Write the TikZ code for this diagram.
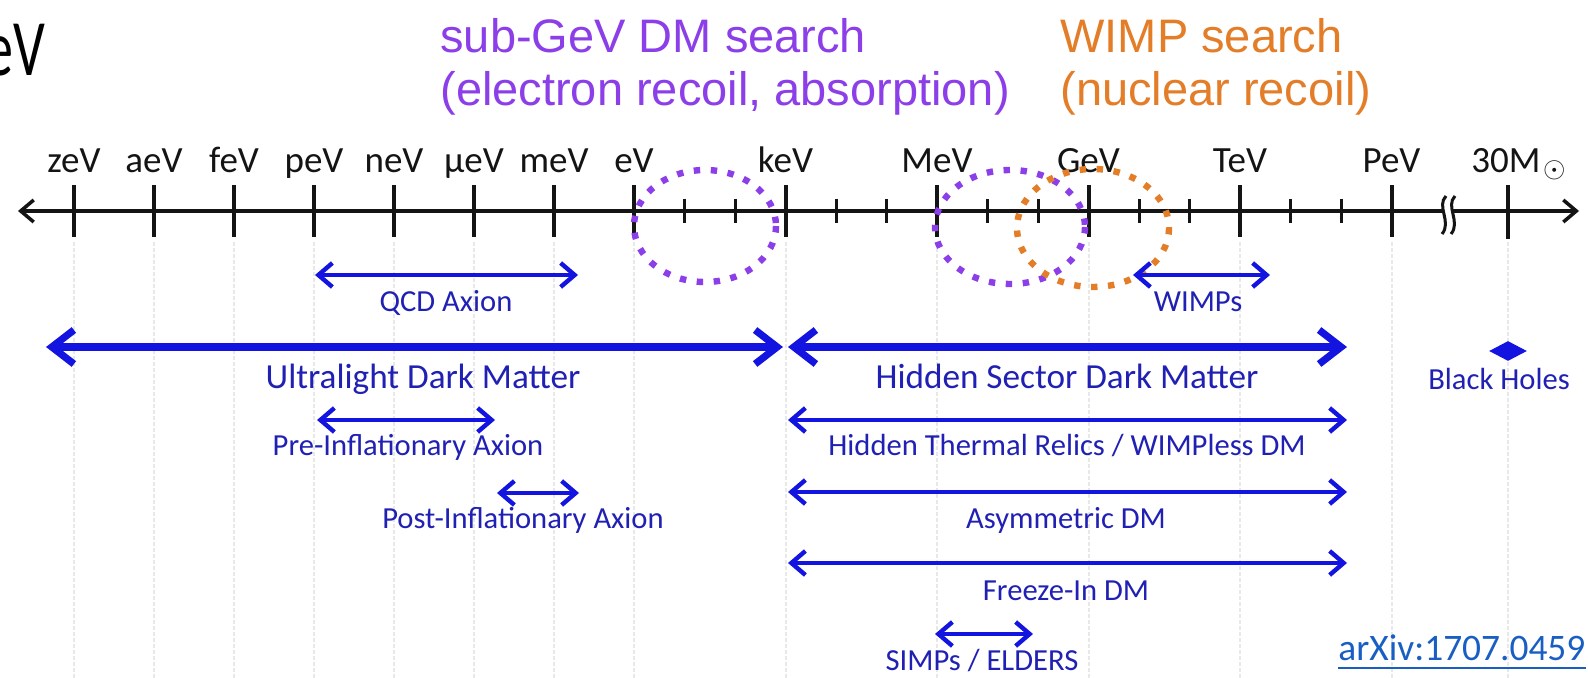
\documentclass[tikz,border=0pt]{standalone}
\usepackage{fontspec}
\setmainfont{Carlito}
\newfontfamily\arialf{Liberation Sans}
\usetikzlibrary{arrows.meta,shapes.geometric}
\definecolor{axblue}{RGB}{20,20,225}
\definecolor{txtblue}{RGB}{32,32,180}
\definecolor{dmpurple}{RGB}{140,62,232}
\definecolor{wimporange}{RGB}{228,125,40}
\definecolor{gridgray}{RGB}{232,232,232}
\definecolor{linkblue}{RGB}{25,95,195}
\definecolor{axblack}{RGB}{20,20,20}
\begin{document}
\begin{tikzpicture}[x=0.5pt,y=-0.5pt,
  gridline/.style={gridgray, line width=1pt, dash pattern=on 2pt off 1pt},
  axisline/.style={axblack, line width=1.75pt, {Straight Barb[length=6.5pt,width=11pt]}-{Straight Barb[length=6.5pt,width=11pt]}},
  majortick/.style={axblack, line width=2pt},
  minortick/.style={axblack, line width=1.5pt},
  thinrange/.style={axblue, line width=2.2pt, {Straight Barb[length=7pt,width=12pt]}-{Straight Barb[length=7pt,width=12pt]}},
  thickrange/.style={axblue, line width=3.6pt, {Straight Barb[length=11pt,width=17pt]}-{Straight Barb[length=11pt,width=17pt]}},
  biglab/.style={text=txtblue, font=\fontsize{17.6}{20}\selectfont, anchor=base, inner sep=0},
  smalllab/.style={text=txtblue, font=\fontsize{15.3}{18}\selectfont, anchor=base, inner sep=0},
  ticklab/.style={text=axblack, font=\fontsize{18.5}{21}\selectfont, anchor=base, inner sep=0},
  titlefont/.style={font=\arialf\fontsize{23.5}{28}\selectfont, anchor=base west, inner sep=0},
  subgevring/.style={dmpurple, line width=3.2pt, dash pattern=on 3.2pt off 5.3pt},
  wimpring/.style={wimporange, line width=3.2pt, dash pattern=on 3.2pt off 5.3pt}]
\useasboundingbox (0,0) rectangle (1588,678);
\fill[white] (0,0) rectangle (1588,678);

% grid lines
\foreach \x in {74,154,234,314,394,474,554,634,785.5,937,1088.5,1240,1391.5,1508}
  \draw[gridline] (\x,242) -- (\x,678);

% axis
\coordinate (axL) at (18,211);
\coordinate (axR) at (1579,211);
\draw[axisline] (axL) -- (axR);

% major ticks with labels (left group)
\foreach \lab [count=\i from 0] in {zeV,aeV,feV,peV,neV,μeV,meV,eV} {
  \coordinate (tk\i) at ({74+80*\i},211);
  \draw[majortick] ([yshift=13pt]tk\i) -- ([yshift=-13pt]tk\i);
  \node[ticklab] (lab\i) at ({74+80*\i},173) {\lab};
}
% right group
\foreach \lab [count=\j from 1] in {keV,MeV,GeV,TeV,PeV} {
  \coordinate (tr\j) at ({634+151.5*\j},211);
  \draw[majortick] ([yshift=13pt]tr\j) -- ([yshift=-13pt]tr\j);
  \node[ticklab] (rlab\j) at ({634+151.5*\j},173) {\lab};
}
\foreach \d in {1,2,4,5,7,8,10,11,13,14} {
  \coordinate (mn\d) at ({634+50.5*\d},211);
  \draw[minortick] ([yshift=6pt]mn\d) -- ([yshift=-6pt]mn\d);
}
% break
\fill[white] (1446,196) .. controls (1436,206) and (1452,222) .. (1442,234) -- (1451,234) .. controls (1461,222) and (1445,206) .. (1455,196) -- cycle;
\draw[axblack, line width=1.5pt] (1446,196) .. controls (1436,206) and (1452,222) .. (1442,234);
\draw[axblack, line width=1.5pt] (1455,196) .. controls (1445,206) and (1461,222) .. (1451,234);
% 30 solar masses
\coordinate (tsm) at (1508,211);
\draw[majortick] ([yshift=13pt]tsm) -- ([yshift=-14pt]tsm);
\node[ticklab] (smlab) at (1506,173) {30M\rlap{\kern1.5pt\raisebox{-2.5pt}{\fontsize{14}{14}\selectfont$\odot$}}};

% dotted rings
\draw[subgevring] (705,226) ellipse [x radius=71, y radius=56];
\draw[subgevring] (1010,227) ellipse [x radius=75, y radius=57];
\draw[wimpring] (1093,228) ellipse [x radius=76, y radius=59];

% titles
\node[titlefont, text=dmpurple] (sg1) at (440,53) {sub-GeV DM search};
\node[titlefont, text=dmpurple] (sg2) at (440,106) {(electron recoil, absorption)};
\node[titlefont, text=wimporange] (wp1) at (1060,53) {WIMP search};
\node[titlefont, text=wimporange] (wp2) at (1060,106) {(nuclear recoil)};
\node[font=\fontsize{40}{44}\selectfont, anchor=base east, inner sep=0, text=black] (ev0) at (46,76) {\scalebox{0.7}[1]{eV}};

% ranges
\coordinate (qcdA) at (315,275);  \coordinate (qcdB) at (578,275);
\draw[thinrange] (qcdA) -- (qcdB);
\node[smalllab] (qcd) at (446,312) {QCD Axion};

\coordinate (wmA) at (1133,275);  \coordinate (wmB) at (1270,275);
\draw[thinrange] (wmA) -- (wmB);
\node[smalllab] (wimps) at (1198,312) {WIMPs};

\coordinate (ulA) at (46,347);  \coordinate (ulB) at (783,347);
\draw[thickrange] (ulA) -- (ulB);
\node[biglab] (uldm) at (423,388) {Ultralight Dark Matter};

\coordinate (hsA) at (788,347);  \coordinate (hsB) at (1347,347);
\draw[thickrange] (hsA) -- (hsB);
\node[biglab] (hsdm) at (1067,388) {Hidden Sector Dark Matter};

\node[diamond, aspect=1.9, fill=axblue, minimum width=19pt, minimum height=10pt, inner sep=0] (bh) at (1508,351) {};
\node[smalllab] (bhlab) at (1499,389) {Black Holes};

\coordinate (preA) at (317,420);  \coordinate (preB) at (495,420);
\draw[thinrange] (preA) -- (preB);
\node[smalllab] (pre) at (408,455) {Pre-Inflationary Axion};

\coordinate (htA) at (788,420);  \coordinate (htB) at (1347,420);
\draw[thinrange] (htA) -- (htB);
\node[smalllab] (htr) at (1067,455) {Hidden Thermal Relics / WIMPless DM};

\coordinate (postA) at (497,493);  \coordinate (postB) at (579,493);
\draw[thinrange] (postA) -- (postB);
\node[smalllab] (post) at (523,528) {Post-Inflationary Axion};

\coordinate (asA) at (788,492);  \coordinate (asB) at (1347,492);
\draw[thinrange] (asA) -- (asB);
\node[smalllab] (asym) at (1066,528) {Asymmetric DM};

\coordinate (fiA) at (788,563);  \coordinate (fiB) at (1347,563);
\draw[thinrange] (fiA) -- (fiB);
\node[smalllab] (frz) at (1066,600) {Freeze-In DM};

\coordinate (siA) at (935,634);  \coordinate (siB) at (1033,634);
\draw[thinrange] (siA) -- (siB);
\node[smalllab] (simp) at (982,670) {SIMPs / ELDERS};

% reference
\node[font=\fontsize{18.7}{21}\selectfont, text=linkblue, anchor=base west, inner sep=0] (arx) at (1338,660) {arXiv:1707.0459};
\draw[linkblue, line width=1pt] ([yshift=-4pt]arx.base west) -- ([yshift=-4pt]arx.base east);
\end{tikzpicture}
\end{document}
